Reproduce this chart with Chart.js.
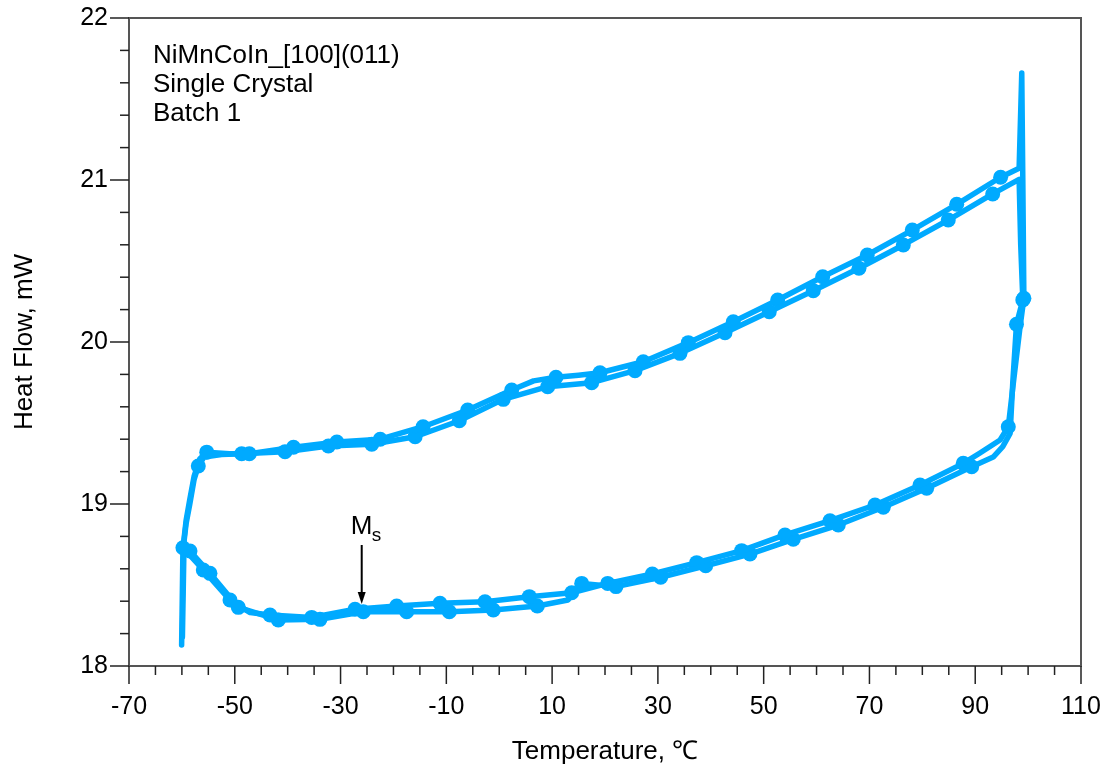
<!DOCTYPE html>
<html>
<head>
<meta charset="utf-8">
<script src="https://cdn.jsdelivr.net/npm/chart.js@4/dist/chart.umd.min.js"></script>
<style>
  body { margin: 0; background: #fff; }
  #wrap { width: 1107px; height: 770px; position: relative; }
</style>
</head>
<body>
<div id="wrap"><canvas id="dscChart"></canvas></div>
<script>
// cycle 1 trace (temperature in degC, heat flow in mW)
var tempA = [-59.75, -59.2, -58.5, -57.7, -56.6, -55.3, -51.0, -47.25, -38.9, -30.7, -22.5, -14.4, -5.96, 2.36, 6.5, 10.73, 15.0, 19.05, 27.24, 35.75, 44.26, 52.65, 61.16, 69.59, 78.1, 86.5, 94.8, 98.3, 98.8, 99.0, 99.2, 98.5, 97.2, 96.25, 94.7, 90.9, 87.74, 79.56, 71.05, 62.54, 54.03, 45.84, 37.34, 28.94, 20.51, 13.7, 5.69, -2.69, -11.2, -19.39, -27.27, -35.46, -43.34, -47.1, -50.9, -55.95, -59.8, -60.05, -59.75];
var heatA = [18.74, 18.9, 19.03, 19.17, 19.28, 19.32, 19.31, 19.31, 19.35, 19.383, 19.40, 19.477, 19.58, 19.704, 19.76, 19.782, 19.795, 19.81, 19.878, 19.996, 20.125, 20.259, 20.403, 20.537, 20.691, 20.85, 21.017, 21.072, 21.66, 21.0, 20.27, 20.1, 19.745, 19.477, 19.395, 19.315, 19.251, 19.117, 18.994, 18.897, 18.809, 18.712, 18.638, 18.568, 18.51, 18.452, 18.428, 18.397, 18.387, 18.37, 18.35, 18.30, 18.315, 18.33, 18.407, 18.593, 18.73, 18.13, 18.74];

// cycle 2 trace
var tempB = [-59.7, -59.2, -58.5, -57.7, -56.9, -55.8, -52.5, -48.7, -40.5, -32.3, -24.1, -15.9, -7.55, 0.77, 9.16, 17.48, 25.67, 34.18, 42.69, 51.06, 59.38, 68.02, 76.4, 84.9, 93.3, 98.3, 98.6, 99.0, 97.8, 97.1, 96.6, 95.2, 93.4, 89.33, 80.82, 72.62, 64.11, 55.6, 47.41, 39.04, 30.53, 22.08, 15.59, 13.0, 7.2, -1.12, -9.44, -17.5, -25.7, -33.89, -41.77, -49.33, -54.69, -58.47, -59.6, -59.9, -59.65];
var heatB = [18.74, 18.88, 19.0, 19.15, 19.235, 19.29, 19.305, 19.31, 19.323, 19.358, 19.369, 19.415, 19.514, 19.646, 19.724, 19.749, 19.823, 19.93, 20.057, 20.187, 20.317, 20.455, 20.599, 20.753, 20.914, 21.004, 20.6, 20.26, 20.11, 19.75, 19.436, 19.354, 19.29, 19.23, 19.097, 18.98, 18.87, 18.782, 18.691, 18.619, 18.548, 18.49, 18.51, 18.407, 18.37, 18.346, 18.335, 18.335, 18.335, 18.288, 18.284, 18.362, 18.572, 18.71, 18.74, 18.18, 18.74];

// symbols along the traces
var markTempA = [-55.3, -47.25, -38.9, -30.7, -22.5, -14.4, -5.96, 2.36, 10.73, 19.05, 27.24, 35.75, 44.26, 52.65, 61.16, 69.59, 78.1, 86.5, 94.8, 99.2, 96.25, 87.74, 79.56, 71.05, 62.54, 54.03, 45.84, 37.34, 28.94, 20.51, 13.7, 5.69, -2.69, -11.2, -19.39, -27.27, -35.46, -43.34, -50.9, -55.95, -59.8];
var markHeatA = [19.32, 19.31, 19.35, 19.383, 19.40, 19.477, 19.58, 19.704, 19.782, 19.81, 19.878, 19.996, 20.125, 20.259, 20.403, 20.537, 20.691, 20.85, 21.017, 20.27, 19.477, 19.251, 19.117, 18.994, 18.897, 18.809, 18.712, 18.638, 18.568, 18.51, 18.452, 18.428, 18.397, 18.387, 18.37, 18.35, 18.30, 18.315, 18.407, 18.593, 18.73];
var markTempB = [-56.9, -48.7, -40.5, -32.3, -24.1, -15.9, -7.55, 0.77, 9.16, 17.48, 25.67, 34.18, 42.69, 51.06, 59.38, 68.02, 76.4, 84.9, 93.3, 99.0, 97.8, 89.33, 80.82, 72.62, 64.11, 55.6, 47.41, 39.04, 30.53, 22.08, 15.59, 7.2, -1.12, -9.44, -17.5, -25.7, -33.89, -41.77, -49.33, -54.69, -58.47];
var markHeatB = [19.235, 19.31, 19.323, 19.358, 19.369, 19.415, 19.514, 19.646, 19.724, 19.749, 19.823, 19.93, 20.057, 20.187, 20.317, 20.455, 20.599, 20.753, 20.914, 20.26, 20.11, 19.23, 19.097, 18.98, 18.87, 18.782, 18.691, 18.619, 18.548, 18.49, 18.51, 18.37, 18.346, 18.335, 18.335, 18.335, 18.288, 18.284, 18.362, 18.572, 18.71];

var noteLines = ["NiMnCoIn_[100](011)", "Single Crystal", "Batch 1"];
var msTemp = -26;           // Ms arrow position
var msHeatTop = 18.747;
var msHeatTip = 18.383;

var blue = "rgb(0,170,255)";
var fontFam = "'Liberation Sans', Arial, Helvetica, sans-serif";

function pts(xs, ys) {
    return xs.map(function (v, i) { return { x: v, y: ys[i] }; });
}
function isMajorX(v) { return Math.abs(((v + 70) % 20 + 20) % 20) < 1e-6; }
function isMajorY(v) { return Math.abs(v - Math.round(v)) < 1e-6; }

var decor = {
    id: "decor",
    afterDraw: function (chart) {
        var ctx = chart.ctx, a = chart.chartArea;
        var x = chart.scales.x, y = chart.scales.y;
        ctx.save();
        // frame
        ctx.strokeStyle = "#555";
        ctx.lineWidth = 2;
        ctx.strokeRect(a.left, a.top, a.right - a.left, a.bottom - a.top);
        // tick marks
        ctx.strokeStyle = "#222";
        ctx.lineWidth = 1.5;
        x.ticks.forEach(function (t) {
            var px = x.getPixelForValue(t.value);
            ctx.beginPath();
            ctx.moveTo(px, a.bottom);
            ctx.lineTo(px, a.bottom + (isMajorX(t.value) ? 18 : 9));
            ctx.stroke();
        });
        y.ticks.forEach(function (t) {
            var py = y.getPixelForValue(t.value);
            ctx.beginPath();
            ctx.moveTo(a.left, py);
            ctx.lineTo(a.left - (isMajorY(t.value) ? 19 : 9), py);
            ctx.stroke();
        });
        // text
        ctx.fillStyle = "#000";
        ctx.font = "26px " + fontFam;
        ctx.textAlign = "left";
        ctx.textBaseline = "alphabetic";
        noteLines.forEach(function (s, i) {
            ctx.fillText(s, a.left + 24, 63 + i * 29);
        });
        ctx.textAlign = "center";
        ctx.textBaseline = "middle";
        ctx.fillText("Temperature, \u2103", (a.left + a.right) / 2, 752);
        ctx.save();
        ctx.translate(25, (a.top + a.bottom) / 2);
        ctx.rotate(-Math.PI / 2);
        ctx.fillText("Heat Flow, mW", 0, 0);
        ctx.restore();
        // Ms arrow
        var ax = x.getPixelForValue(msTemp);
        var y0 = y.getPixelForValue(msHeatTop);
        var y1 = y.getPixelForValue(msHeatTip);
        ctx.strokeStyle = "#000";
        ctx.lineWidth = 2;
        ctx.beginPath();
        ctx.moveTo(ax, y0);
        ctx.lineTo(ax, y1 - 8);
        ctx.stroke();
        ctx.beginPath();
        ctx.moveTo(ax, y1);
        ctx.lineTo(ax - 4, y1 - 12);
        ctx.lineTo(ax + 4, y1 - 12);
        ctx.closePath();
        ctx.fill();
        ctx.textAlign = "left";
        ctx.textBaseline = "alphabetic";
        ctx.font = "26px " + fontFam;
        ctx.fillText("M", ax - 11, y0 - 11);
        ctx.font = "19px " + fontFam;
        ctx.fillText("s", ax + 10, y0 - 4);
        ctx.restore();
    }
};

new Chart("dscChart", {
    type: "scatter",
    data: {
        datasets: [
            { data: pts(tempA, heatA), showLine: true, borderColor: blue, borderWidth: 5.5, pointRadius: 0, borderJoinStyle: "round", borderCapStyle: "round" },
            { data: pts(tempB, heatB), showLine: true, borderColor: blue, borderWidth: 5.5, pointRadius: 0, borderJoinStyle: "round", borderCapStyle: "round" },
            { data: pts(markTempA, markHeatA), showLine: false, pointRadius: 7.5, backgroundColor: blue, borderWidth: 0 },
            { data: pts(markTempB, markHeatB), showLine: false, pointRadius: 7.5, backgroundColor: blue, borderWidth: 0 }
        ]
    },
    options: {
        responsive: true,
        maintainAspectRatio: false,
        animation: false,
        layout: { padding: { left: 0, top: 18, right: 26, bottom: 0 } },
        plugins: { legend: { display: false }, tooltip: { enabled: false } },
        scales: {
            x: {
                type: "linear",
                min: -70, max: 110,
                afterFit: function (s) { s.height = 104; s.paddingLeft = 0; s.paddingRight = 0; },
                grid: { display: false, drawTicks: false },
                border: { display: false },
                ticks: {
                    stepSize: 5, autoSkip: false, maxRotation: 0, padding: 26,
                    color: "#000", font: { size: 25, family: fontFam },
                    callback: function (v) { return isMajorX(v) ? String(v) : ""; }
                }
            },
            y: {
                type: "linear",
                min: 18, max: 22,
                afterFit: function (s) { s.width = 129; s.paddingTop = 0; s.paddingBottom = 0; },
                grid: { display: false, drawTicks: false },
                border: { display: false },
                ticks: {
                    stepSize: 0.2, autoSkip: false, padding: 21,
                    color: "#000", font: { size: 25, family: fontFam },
                    callback: function (v) { return isMajorY(v) ? String(Math.round(v)) : ""; }
                }
            }
        }
    },
    plugins: [decor]
});
</script>
</body>
</html>
